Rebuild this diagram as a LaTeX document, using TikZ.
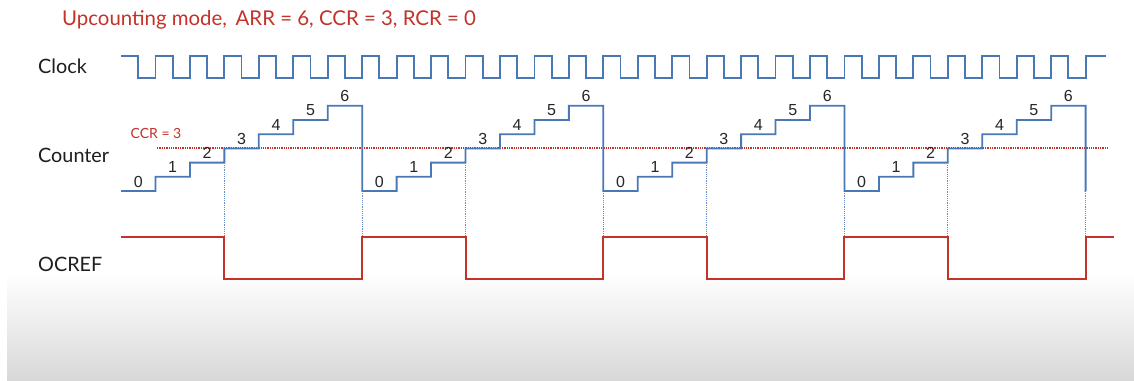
\documentclass[tikz,border=0pt]{standalone}
\usepackage{fontspec}
\setmainfont{Lato}
\newfontfamily\digitfont{Liberation Sans}
\definecolor{wred}{RGB}{196,50,42}
\definecolor{wblue}{RGB}{74,120,182}
\definecolor{dblue}{RGB}{105,140,195}
\definecolor{lbl}{RGB}{30,30,30}
\definecolor{fade}{RGB}{216,216,216}
\tikzset{
  clk/.style={wblue, line width=1.8pt, line join=miter},
  cnt/.style={wblue, line width=1.8pt},
  oc/.style={wred, line width=2pt},
  ccrline/.style={wred, line width=1.3pt, densely dotted},
  guide/.style={dblue, line width=1.2pt, densely dotted},
  num/.style={font=\digitfont\fontsize{16}{16}\selectfont, text=black!85, inner sep=0pt},
  siglabel/.style={font=\fontsize{19.8}{19.8}\selectfont, text=lbl, anchor=west, inner sep=0pt},
  title/.style={font=\fontsize{20.4}{20.4}\selectfont, text=wred, anchor=west, inner sep=0pt},
}
\begin{document}
\begin{tikzpicture}[x=1pt,y=-1pt]
\useasboundingbox (0,0) rectangle (1134,380);
\fill[white] (0,0) rectangle (1134,380);
\shade[top color=white, bottom color=fade] (7,273) rectangle (1134,380);
\def\p{34.45}
% title
\node[title] (title) at (62,20) {Upcounting mode,\, ARR = 6, CCR = 3, RCR = 0};
% signal labels
\node[siglabel] (lclock) at (38,66) {Clock};
\node[siglabel] (lcounter) at (38,155) {Counter};
\node[siglabel] (locref) at (38,264) {OCREF};
% clock
\draw[clk] (121,56) \foreach \k in {0,...,27} { -- ({121+\p*\k+\p/2},56) -- ++(0,22) -- ({121+\p*(\k+1)},78) -- ++(0,-22) } -- (1106,56);
% CCR line
\draw[ccrline] (157,148) -- (1107,148);
\node[font=\fontsize{14}{14}\selectfont, text=wred, inner sep=0pt] (ccrlab) at (156,133) {CCR = 3};
% guides
\foreach \c in {0,...,3} {
  \draw[guide] ({121+\p*(7*\c+3)},165) -- ({121+\p*(7*\c+3)},236);
  \draw[guide] ({121+\p*(7*\c+7)},180) -- ({121+\p*(7*\c+7)},236);
}
% counter
\draw[cnt] (121,191) \foreach \c in {0,...,3} { \foreach \n in {1,...,6} { -- ({121+\p*(7*\c+\n)},{191-14.2*(\n-1)}) -- ++(0,-14.2) } -- ({121+\p*(7*\c+7)},105.8) -- ++(0,85.2) -- ++(0.01,0) };
\foreach \c in {0,...,3} {
  \foreach \n in {0,...,6} {
    \node[num] (n\c\n) at ({121+\p*(7*\c+\n)+\p/2},{181.5-14.2*\n}) {\n};
  }
}
% OCREF
\draw[oc] (121,237) \foreach \c in {0,...,3} { -- ({121+\p*(7*\c+3)},237) -- ++(0,42) -- ({121+\p*(7*\c+7)},279) -- ++(0,-42) } -- (1114,237);
\end{tikzpicture}
\end{document}
